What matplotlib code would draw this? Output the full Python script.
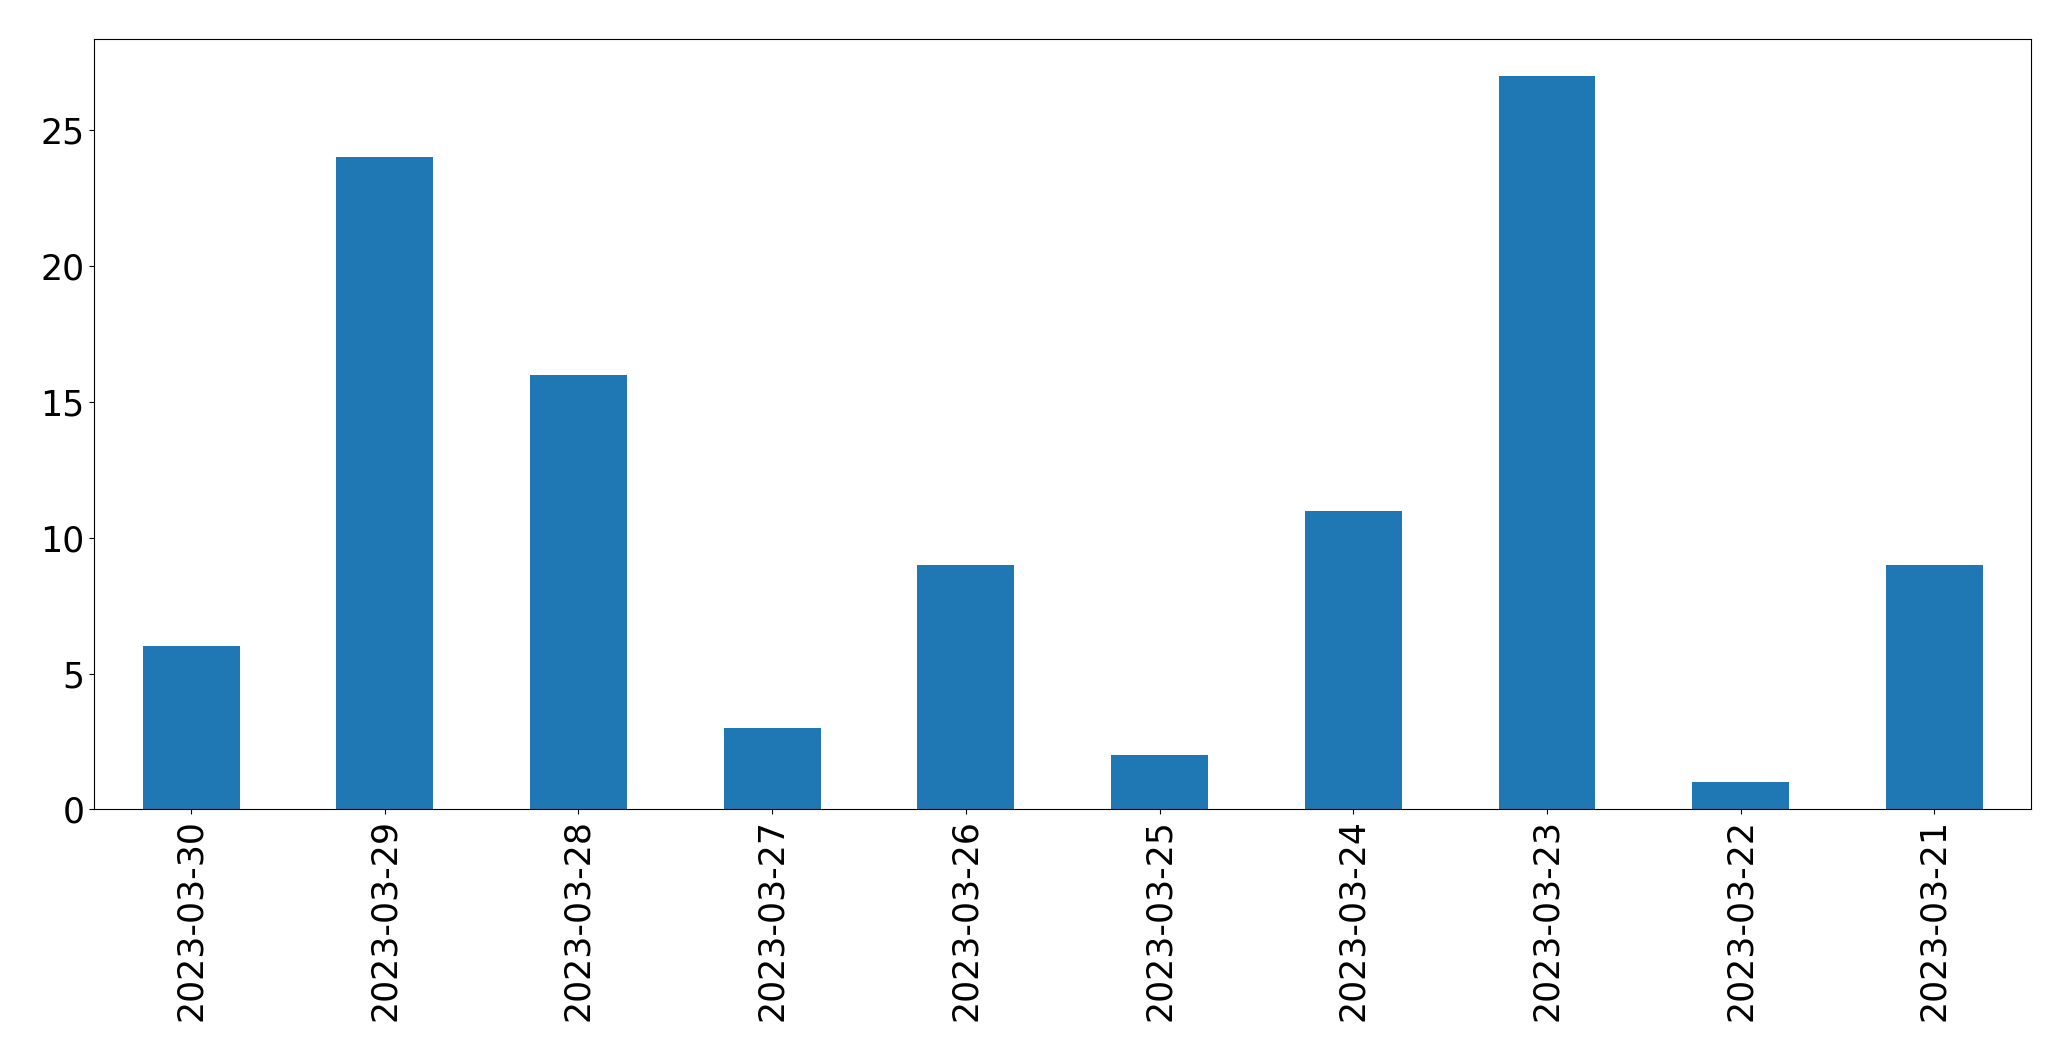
import matplotlib
matplotlib.use('Agg')
import matplotlib.pyplot as plt

dates = ['2023-03-30', '2023-03-29', '2023-03-28', '2023-03-27', '2023-03-26',
         '2023-03-25', '2023-03-24', '2023-03-23', '2023-03-22', '2023-03-21']
counts = [6, 24, 16, 3, 9, 2, 11, 27, 1, 9]

fig = plt.figure(figsize=(20.71, 10.61), dpi=100)
ax = fig.add_axes([0.0455, 0.2372, 0.9353, 0.7258])

x = range(len(dates))
ax.bar(x, counts, width=0.5, color='#1f77b4')
ax.set_xlim(-0.5, len(dates) - 0.5)
ax.set_ylim(0, max(counts) * 1.05)
ax.set_xticks(list(x))
ax.set_xticklabels(dates, rotation=90, fontsize=25)
ax.tick_params(axis='y', labelsize=25)

fig.savefig('out.png', dpi=100)
